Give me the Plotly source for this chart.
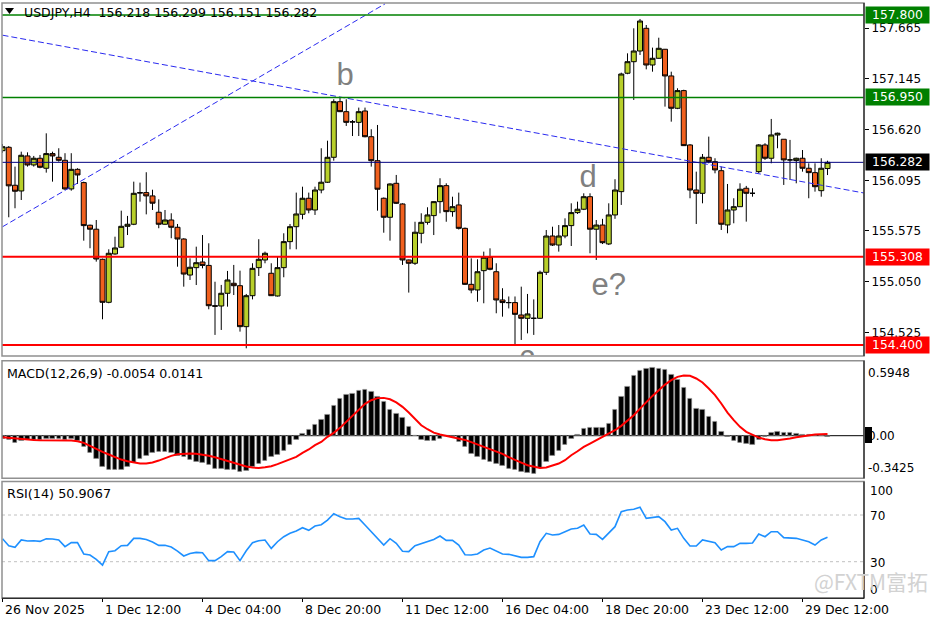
import plotly.graph_objects as go

# ---------------- data ----------------
BAR_IDX = list(range(133))

OPEN = [156.402,156.437,156.046,155.987,156.348,156.255,156.324,156.221,156.372,156.334,
156.303,156.008,156.210,156.073,155.634,155.593,155.283,154.840,155.338,155.407,
155.623,155.644,155.965,155.970,155.936,155.768,155.644,155.688,155.613,155.492,
155.121,155.197,155.255,155.220,154.805,154.802,154.933,155.036,155.011,154.589,
154.908,155.197,155.276,155.139,154.905,155.197,155.465,155.619,155.747,155.912,
155.791,155.997,156.077,156.334,156.907,156.804,156.700,156.694,156.811,156.546,
156.299,155.912,155.716,156.066,155.853,155.276,155.242,155.551,155.664,155.733,
155.877,156.042,155.774,155.843,155.602,155.025,154.967,155.166,155.304,155.155,
154.864,154.837,154.837,154.709,154.675,154.675,154.675,155.149,155.523,155.430,
155.523,155.630,155.764,155.799,155.928,155.593,155.636,155.441,155.740,155.980,
157.200,157.319,157.429,157.663,157.285,157.354,157.447,157.172,156.839,157.021,
156.461,155.997,155.963,156.334,156.289,156.196,155.637,155.791,155.825,156.015,
155.963,156.186,156.461,156.324,156.564,156.520,156.307,156.300,156.324,156.221,
156.176,155.990,156.218]

HIGH = [156.470,156.450,156.238,156.392,156.385,156.348,156.358,156.581,156.392,156.427,
156.376,156.376,156.221,156.083,155.640,155.688,155.290,155.386,155.516,155.784,
155.730,156.083,156.073,156.180,156.000,155.901,155.791,155.757,155.647,155.500,
155.293,155.413,155.533,155.448,155.052,155.019,155.163,155.225,155.166,154.926,
155.242,155.490,155.362,155.242,155.311,155.551,155.647,155.970,156.031,155.970,
156.031,156.427,156.505,156.932,156.949,156.932,156.718,156.846,156.846,156.623,
156.667,155.920,156.066,156.152,155.860,155.280,155.670,155.757,155.819,155.880,
156.118,156.066,155.928,155.970,155.610,155.293,155.283,155.362,155.396,155.242,
154.985,154.900,154.900,155.001,154.926,154.870,155.166,155.585,155.619,155.636,
155.705,155.860,155.877,155.963,155.963,155.688,155.700,155.860,156.108,157.206,
157.405,157.663,157.759,157.697,157.464,157.566,157.450,157.216,157.045,157.030,
156.470,156.186,156.368,156.547,156.324,156.238,156.059,155.912,156.066,156.039,
156.015,156.470,156.479,156.729,156.588,156.520,156.513,156.330,156.409,156.272,
156.272,156.324,156.299]

LOW = [156.380,155.716,155.809,155.894,156.238,156.238,156.221,156.176,156.083,156.289,
155.997,155.990,156.059,155.475,155.397,155.259,154.665,154.830,155.330,155.400,
155.533,155.635,155.877,155.746,155.791,155.603,155.640,155.500,155.207,155.001,
155.070,155.018,155.190,154.768,154.504,154.555,154.795,154.915,154.538,154.366,
154.870,155.111,155.242,154.905,154.900,155.098,155.386,155.386,155.695,155.757,
155.740,155.963,156.070,156.299,156.800,156.657,156.553,156.553,156.540,156.238,
155.784,155.557,155.475,155.853,155.225,154.940,155.225,155.448,155.640,155.533,
155.757,155.670,155.722,155.590,155.020,154.933,154.846,154.830,155.170,154.727,
154.692,154.777,154.393,154.452,154.520,154.504,154.670,155.121,155.420,155.362,
155.500,155.420,155.750,155.790,155.345,155.276,155.440,155.430,155.700,155.843,
157.190,156.925,157.388,157.240,157.216,157.350,156.856,156.701,156.830,156.450,
155.912,155.647,155.860,156.272,156.169,155.585,155.551,155.654,155.825,155.671,
155.928,156.170,156.307,156.272,156.427,156.049,156.100,156.066,156.186,155.912,
155.980,155.928,156.151]

CLOSE = [156.443,156.040,155.984,156.355,156.255,156.324,156.231,156.372,156.348,156.303,
156.008,156.210,156.152,155.630,155.593,155.286,154.840,155.345,155.400,155.623,
155.644,155.963,155.970,155.936,155.861,155.644,155.688,155.613,155.492,155.131,
155.201,155.248,155.220,154.805,154.800,154.933,155.070,155.011,154.589,154.908,
155.190,155.283,155.345,154.908,155.197,155.465,155.619,155.750,155.912,155.791,
155.997,156.077,156.334,156.907,156.804,156.694,156.698,156.804,156.546,156.299,
156.005,155.716,156.059,155.860,155.276,155.242,155.562,155.664,155.740,155.877,
156.042,155.774,155.825,155.602,155.025,154.967,155.155,155.304,155.180,154.864,
154.837,154.837,154.716,154.675,154.720,154.675,155.149,155.523,155.430,155.523,
155.630,155.764,155.799,155.928,155.593,155.636,155.454,155.740,155.997,157.192,
157.319,157.429,157.738,157.285,157.354,157.457,157.172,156.839,157.021,156.454,
155.997,155.963,156.334,156.289,156.204,155.644,155.791,155.825,156.005,155.963,
155.963,156.461,156.324,156.564,156.582,156.307,156.307,156.324,156.221,156.176,
156.031,156.221,156.282]

MACD_HIST = [-0.023,-0.031,-0.055,-0.044,-0.036,-0.031,-0.036,-0.028,-0.023,-0.023,
-0.036,-0.028,-0.044,-0.090,-0.135,-0.184,-0.250,-0.270,-0.277,-0.272,
-0.250,-0.216,-0.184,-0.157,-0.135,-0.130,-0.130,-0.135,-0.157,-0.170,
-0.189,-0.205,-0.216,-0.237,-0.264,-0.264,-0.270,-0.277,-0.291,-0.285,
-0.250,-0.224,-0.197,-0.170,-0.151,-0.117,-0.076,-0.036,0.017,0.052,
0.090,0.125,0.165,0.245,0.299,0.326,0.339,0.358,0.366,0.352,
0.312,0.272,0.205,0.178,0.143,0.071,0.004,-0.036,-0.044,-0.044,
-0.023,-0.001,-0.009,-0.050,-0.090,-0.143,-0.170,-0.189,-0.210,-0.224,
-0.243,-0.264,-0.277,-0.291,-0.296,-0.304,-0.259,-0.205,-0.157,-0.117,
-0.071,-0.028,0.009,0.058,0.063,0.066,0.063,0.098,0.213,0.312,
0.393,0.481,0.519,0.535,0.545,0.540,0.527,0.492,0.454,0.385,
0.299,0.218,0.205,0.151,0.111,0.036,-0.009,-0.044,-0.055,-0.063,
-0.071,-0.036,-0.009,0.025,0.031,0.025,0.023,0.017,0.012,0.009,
0.004,-0.004,-0.0054]

MACD_SIGNAL = [-0.012,-0.017,-0.023,-0.028,-0.031,-0.034,-0.036,-0.036,-0.036,-0.036,
-0.036,-0.039,-0.044,-0.058,-0.082,-0.109,-0.130,-0.151,-0.173,-0.192,
-0.205,-0.216,-0.224,-0.224,-0.216,-0.200,-0.178,-0.162,-0.149,-0.143,
-0.143,-0.146,-0.151,-0.162,-0.173,-0.189,-0.205,-0.221,-0.237,-0.248,
-0.256,-0.259,-0.253,-0.245,-0.229,-0.210,-0.194,-0.170,-0.138,-0.111,
-0.076,-0.050,-0.009,0.023,0.063,0.111,0.165,0.213,0.256,0.285,
0.302,0.304,0.293,0.267,0.232,0.186,0.133,0.084,0.052,0.025,
0.009,-0.001,-0.012,-0.023,-0.034,-0.052,-0.071,-0.092,-0.109,-0.127,
-0.146,-0.173,-0.197,-0.216,-0.237,-0.250,-0.259,-0.256,-0.243,-0.224,
-0.197,-0.157,-0.125,-0.090,-0.063,-0.036,-0.007,0.017,0.044,0.079,
0.119,0.165,0.218,0.272,0.320,0.366,0.411,0.446,0.473,0.484,
0.481,0.460,0.428,0.379,0.326,0.259,0.186,0.125,0.071,0.031,
0.009,-0.015,-0.028,-0.036,-0.036,-0.031,-0.023,-0.012,-0.004,0.004,
0.009,0.012,0.0141]

RSI = [49.7,43.7,42.3,48.6,47.7,48.0,47.4,49.7,49.4,48.6,
42.9,46.3,46.3,36.6,35.7,32.0,27.1,38.6,39.4,43.7,
44.0,50.0,50.0,49.1,46.9,44.0,44.0,42.6,39.1,34.9,
37.1,38.0,37.7,30.9,30.9,34.3,38.6,38.3,30.9,39.4,
46.3,48.0,48.6,41.4,47.1,51.4,54.3,56.3,59.1,56.9,
60.6,61.7,65.7,71.1,68.6,66.6,66.6,67.1,61.4,55.7,
50.0,44.3,49.7,45.7,38.9,38.6,43.7,45.7,47.1,49.1,
52.0,48.3,48.3,44.3,36.0,35.7,36.6,40.0,41.7,39.1,
36.6,36.3,34.9,33.7,33.7,34.3,47.1,54.3,52.9,53.4,
55.7,58.0,58.6,61.4,53.7,53.4,49.1,54.3,60.0,72.9,
74.3,74.9,76.6,67.1,67.7,68.6,64.3,57.1,58.6,50.0,
43.4,43.4,48.6,47.7,46.3,40.0,42.9,42.9,45.7,45.7,
46.0,53.7,51.4,55.7,55.7,50.6,50.6,50.0,48.6,47.1,
44.3,48.6,50.9067]

TICK_IDX = [0, 16, 32, 48, 64, 80, 96, 112, 128]
TICK_LABELS = ["26 Nov 2025", "1 Dec 12:00", "4 Dec 04:00", "8 Dec 20:00", "11 Dec 12:00",
               "16 Dec 04:00", "18 Dec 20:00", "23 Dec 12:00", "29 Dec 12:00"]

PRICE_TICKS = [157.665, 157.145, 156.620, 156.095, 155.575, 155.050, 154.525]
LEVEL_PRICES = [157.800, 156.950, 156.282, 155.308, 154.400]
LEVEL_KIND = ["green", "green", "bid", "red", "red"]

TREND1_X = [0, 137.84]
TREND1_Y = [157.592, 155.966]
TREND2_X = [0, 61.2]
TREND2_Y = [155.618, 157.915]

WAVE_TEXT = ["b", "d", "e?", "c"]
WAVE_X = [54.8, 93.7, 97.0, 83.9]
WAVE_Y = [157.16, 156.11, 154.99, 154.25]

MACD_LEVELS = [0.5948, 0.00, -0.3425]
RSI_LEVELS = [100, 70, 30, 0]

TITLE = "USDJPY,H4  156.218 156.299 156.151 156.282"
MACD_TITLE = "MACD(12,26,9) -0.0054 0.0141"
RSI_TITLE = "RSI(14) 50.9067"
WATERMARK = "@FXTM富拓"

# ---------------- geometry helpers ----------------
W, H = 936, 624
def px(x):
    return x / W
def py(y):
    return 1 - y / H

FONT = "DejaVu Sans"
FS = 12
X_LEFT, X_RIGHT = 2, 864
PRICE_TOP, PRICE_BOT = 3, 356
MACD_TOP, MACD_BOT = 361.7, 478.3
RSI_TOP, RSI_BOT = 480, 596.7
P_PER_PX = 1 / 97.06
price_range = [157.8 - (PRICE_BOT - 15) * P_PER_PX, 157.8 + (15 - PRICE_TOP) * P_PER_PX]
x_range = [(X_LEFT - 2.5) / 6.25, (X_RIGHT - 2.5) / 6.25]

BULL = "#B8CF2A"
BEAR = "#F0601E"

fig = go.Figure()

fig.add_trace(go.Candlestick(
    x=BAR_IDX, open=OPEN, high=HIGH, low=LOW, close=CLOSE,
    increasing=dict(fillcolor=BULL, line=dict(color="black", width=1)),
    decreasing=dict(fillcolor=BEAR, line=dict(color="black", width=1)),
    whiskerwidth=0, xaxis="x", yaxis="y", showlegend=False, hoverinfo="skip"))

fig.add_trace(go.Scatter(x=TREND1_X, y=TREND1_Y, mode="lines", yaxis="y",
                         line=dict(color="#2A2AF0", width=1, dash="6px,3px"),
                         showlegend=False, hoverinfo="skip"))
fig.add_trace(go.Scatter(x=TREND2_X, y=TREND2_Y, mode="lines", yaxis="y",
                         line=dict(color="#2A2AF0", width=1, dash="6px,3px"),
                         showlegend=False, hoverinfo="skip"))

fig.add_trace(go.Scatter(x=WAVE_X, y=WAVE_Y, mode="text", text=WAVE_TEXT, yaxis="y",
                         textfont=dict(family="Liberation Sans", size=31, color="#808080"),
                         textposition="middle center", cliponaxis=True,
                         showlegend=False, hoverinfo="skip"))

fig.add_trace(go.Bar(x=BAR_IDX, y=MACD_HIST, yaxis="y2", width=0.72,
                     marker=dict(color="black", line=dict(color="#909090", width=0.6)),
                     showlegend=False, hoverinfo="skip"))
fig.add_trace(go.Scatter(x=BAR_IDX, y=MACD_SIGNAL, yaxis="y2", mode="lines",
                         line=dict(color="#FF0000", width=2), showlegend=False, hoverinfo="skip"))

fig.add_trace(go.Scatter(x=BAR_IDX, y=RSI, yaxis="y3", mode="lines",
                         line=dict(color="#1E90FF", width=1.6), showlegend=False, hoverinfo="skip"))

shapes = []
level_colors = {"green": "#008000", "red": "#FF0000", "bid": "#000080"}
level_widths = {"green": 1.5, "red": 2, "bid": 1}
for p, k in zip(LEVEL_PRICES, LEVEL_KIND):
    shapes.append(dict(type="line", xref="paper", yref="y", x0=px(X_LEFT), x1=px(X_RIGHT),
                       y0=p, y1=p, line=dict(color=level_colors[k], width=level_widths[k])))
shapes.append(dict(type="line", xref="paper", yref="y2", x0=px(X_LEFT), x1=px(X_RIGHT),
                   y0=0, y1=0, line=dict(color="black", width=1), layer="below"))
for lv in [70, 30]:
    shapes.append(dict(type="line", xref="paper", yref="y3", x0=px(X_LEFT), x1=px(X_RIGHT),
                       y0=lv, y1=lv, line=dict(color="#C0C0C0", width=1, dash="dot"), layer="below"))
for top, bot in [(PRICE_TOP, PRICE_BOT), (MACD_TOP - 1, MACD_BOT), (RSI_TOP + 1.5, RSI_BOT + 1.5)]:
    shapes.append(dict(type="rect", xref="paper", yref="paper", x0=px(X_LEFT), x1=px(X_RIGHT),
                       y0=py(bot), y1=py(top), line=dict(color="#909090", width=1.5)))
    shapes.append(dict(type="line", xref="paper", yref="paper", x0=px(X_RIGHT), x1=px(X_RIGHT),
                       y0=py(bot), y1=py(top), line=dict(color="black", width=1)))
shapes.append(dict(type="line", xref="paper", yref="paper", x0=px(X_LEFT), x1=px(X_RIGHT),
                   y0=py(RSI_BOT + 1.5), y1=py(RSI_BOT + 1.5), line=dict(color="black", width=1)))
shapes.append(dict(type="path", xref="paper", yref="paper",
                   path=f"M {px(5)} {py(8)} L {px(14)} {py(8)} L {px(9.5)} {py(14)} Z",
                   fillcolor="black", line=dict(color="black", width=0)))
shapes.append(dict(type="rect", xref="paper", yref="paper", x0=px(865), x1=px(872),
                   y0=py(443), y1=py(427), fillcolor="black", line=dict(width=0)))

annotations = []
def txt(x, y, s, color="black", size=FS, xanchor="left", yref="paper", family=FONT, **kw):
    annotations.append(dict(x=x, y=y, xref="paper", yref=yref, text=s, showarrow=False,
                            xanchor=xanchor, yanchor="middle",
                            font=dict(family=family, size=size, color=color), **kw))

txt(px(22), py(12), TITLE, size=12.5)
txt(px(5), py(373), MACD_TITLE, size=12.6)
txt(px(5), py(493), RSI_TITLE, size=12.8)

box_bg = {"green": "#008000", "red": "#FF0000", "bid": "#000000"}
for p, k in zip(LEVEL_PRICES, LEVEL_KIND):
    txt(px(865), p, f"{p:.3f}", color="white", yref="y", bgcolor=box_bg[k], borderpad=1,
        width=61, align="center", size=12.3)

macd_label_px = [373, 436, 468]
for v, ypix in zip(MACD_LEVELS, macd_label_px):
    txt(px(866), py(ypix), f"{v:.4f}" if v != 0 else "0.00")
rsi_label_px = [491, 516, 563, 590]
for v, ypix in zip(RSI_LEVELS, rsi_label_px):
    txt(px(868), py(ypix), str(v))

for i, lab in zip(TICK_IDX, TICK_LABELS):
    xpix = 2.5 + 6.25 * i
    txt(px(xpix + 0.5), py(609), lab, size=12.5)

txt(px(930), py(581), WATERMARK, color="#D2D2D2", size=21, xanchor="right",
    family="Noto Sans CJK SC")

fig.update_layout(
    width=W, height=H, margin=dict(l=0, r=0, t=0, b=0), autosize=False,
    paper_bgcolor="white", plot_bgcolor="white",
    showlegend=False, boxgap=0.2, boxgroupgap=0, bargap=0,
    shapes=shapes, annotations=annotations,
    xaxis=dict(domain=[px(X_LEFT), px(X_RIGHT)], range=x_range, anchor="y3",
               showgrid=False, zeroline=False, showticklabels=False,
               tickvals=TICK_IDX, ticks="outside", ticklen=4, tickcolor="black",
               rangeslider=dict(visible=False), showline=False),
    yaxis=dict(domain=[py(PRICE_BOT), py(PRICE_TOP)], range=price_range, anchor="x",
               side="right", showgrid=False, zeroline=False,
               tickvals=PRICE_TICKS, ticktext=[f"{t:.3f}" for t in PRICE_TICKS],
               ticks="outside", ticklen=4, tickcolor="black",
               tickfont=dict(family=FONT, size=FS, color="black")),
    yaxis2=dict(domain=[py(MACD_BOT), py(MACD_TOP)], range=[-0.3425, 0.5948], anchor="x",
                side="right", showgrid=False, zeroline=False, showticklabels=False),
    yaxis3=dict(domain=[py(RSI_BOT), py(RSI_TOP)], range=[0, 100], anchor="x",
                side="right", showgrid=False, zeroline=False, showticklabels=False),
)

fig.write_html("out.html", config={"displayModeBar": False},
               post_script="document.body.style.margin='0';document.body.style.overflow='hidden';")
